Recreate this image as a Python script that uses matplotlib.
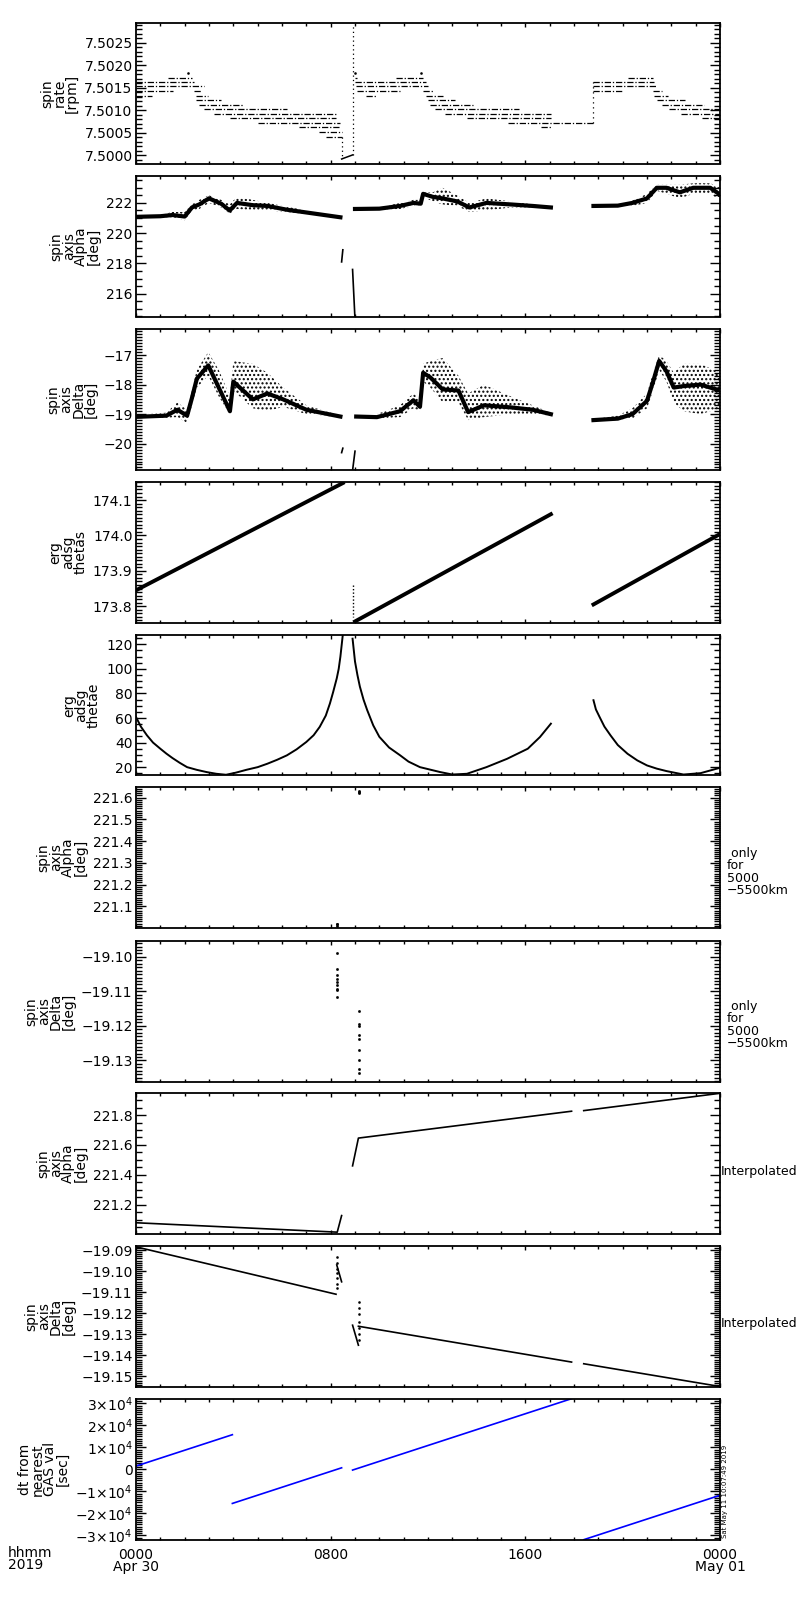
import numpy as np
import matplotlib
matplotlib.use('Agg')
import matplotlib.pyplot as plt
from matplotlib.ticker import MultipleLocator, FuncFormatter

# ---- panel 1: spin rate, quantized levels [rpm] and the hours where each level shows up
rate_lev = [7.50164, 7.50153, 7.50144, 7.50131, 7.50171, 7.50144, 7.50131, 7.50123,
            7.50111, 7.50103, 7.50091, 7.50083, 7.50072, 7.50063, 7.50052, 7.50041,
            7.50171, 7.50164, 7.50153, 7.50144, 7.50131, 7.50171, 7.50144, 7.50131,
            7.50123, 7.50111, 7.50103, 7.50091, 7.50083, 7.50072, 7.50063,
            7.50164, 7.50153, 7.50144, 7.50171, 7.50144, 7.50131, 7.50123, 7.50111,
            7.50103, 7.50091, 7.50083]
rate_t0 = [0.0, 0.0, 0.0, 0.0, 1.3, 2.4, 2.45, 2.45, 2.6, 2.8, 3.2, 3.85, 5.0, 6.7, 7.5, 7.8,
           9.0, 9.0, 9.05, 9.1, 9.45, 10.7, 11.8, 11.9, 12.0, 12.1, 12.3, 12.7, 13.6, 15.3, 16.65,
           18.8, 18.8, 18.8, 20.2, 21.25, 21.3, 21.4, 21.6, 21.9, 22.4, 23.25]
rate_t1 = [2.4, 2.8, 1.5, 0.65, 2.3, 2.7, 2.97, 3.5, 4.45, 6.2, 8.2, 8.2, 8.4, 8.4, 8.45, 8.45,
           9.1, 11.9, 12.0, 10.85, 9.85, 11.8, 12.2, 12.6, 13.1, 13.85, 15.75, 17.05, 17.05, 18.8, 17.05,
           21.3, 21.4, 20.0, 21.25, 21.6, 21.85, 22.55, 23.35, 24.0, 24.0, 24.0]
rate_dot_t = [2.15, 9.02, 11.7]
rate_dot_v = [7.50183, 7.50183, 7.50183]
rate_drop_t = [8.45, 8.45]
rate_drop_v = [7.50041, 7.49992]
rate_ramp_t = [8.45, 8.9]
rate_ramp_v = [7.49992, 7.50001]
rate_spike_t = [8.9, 8.9]
rate_spike_v = [7.50001, 7.50288]
rate_step_t = [18.8, 18.8]
rate_step_v = [7.50072, 7.50164]

# ---- panel 2: spin axis alpha [deg], centre of the point cloud and its envelope
alpha_t = [0, 1.0, 1.5, 2.0, 2.3, 2.6, 3.0, 3.5, 3.85, 4.15, 4.8, 5.4, 6.2, 7.3, 8.4, np.nan,
           9.0, 10.0, 10.85, 11.4, 11.7, 11.8, 12.2, 12.6, 13.2, 13.7, 14.4, 15.4, 16.3, 17.05, np.nan,
           18.8, 19.8, 20.4, 21.0, 21.4, 21.8, 22.35, 22.9, 23.6, 24.0]
alpha_mid = [221.08, 221.12, 221.2, 221.1, 221.7, 221.9, 222.3, 221.95, 221.5, 222.0, 221.85, 221.8, 221.55, 221.3, 221.05, np.nan,
             221.6, 221.62, 221.8, 222.0, 221.95, 222.6, 222.4, 222.3, 222.1, 221.7, 222.0, 221.9, 221.8, 221.7, np.nan,
             221.8, 221.82, 222.0, 222.3, 223.0, 223.0, 222.7, 223.0, 223.0, 222.55]
alpha_hi = [221.12, 221.2, 221.4, 221.4, 221.9, 222.2, 222.5, 222.2, 221.9, 222.4, 222.2, 222.0, 221.75, 221.4, 221.08, np.nan,
            221.62, 221.7, 222.0, 222.2, 222.2, 222.7, 222.7, 223.0, 222.5, 222.0, 222.3, 222.1, 221.9, 221.75, np.nan,
            221.82, 221.9, 222.15, 222.6, 223.2, 223.2, 223.2, 223.3, 223.3, 223.0]
alpha_lo = [221.04, 221.05, 221.05, 220.85, 221.5, 221.6, 222.0, 221.7, 221.3, 221.6, 221.5, 221.5, 221.4, 221.2, 221.02, np.nan,
            221.58, 221.55, 221.6, 221.8, 221.8, 222.4, 222.1, 221.9, 221.8, 221.4, 221.5, 221.7, 221.7, 221.65, np.nan,
            221.78, 221.75, 221.8, 222.0, 222.8, 222.6, 222.3, 222.6, 222.6, 222.2]
alpha_gap_t = [8.45, 8.5, np.nan, 8.9, 9.0]
alpha_gap_v = [218.1, 218.9, np.nan, 217.6, 214.3]

# ---- panel 3: spin axis delta [deg]
delta_t = [0, 1.25, 1.7, 2.1, 2.3, 2.5, 2.97, 3.4, 3.86, 4.0, 4.8, 5.4, 6.05, 7.0, 8.4, np.nan,
           9.05, 9.9, 10.85, 11.4, 11.67, 11.8, 12.1, 12.6, 13.25, 13.65, 14.3, 15.4, 16.3, 17.05, np.nan,
           18.8, 19.8, 20.4, 21.0, 21.25, 21.5, 21.8, 22.1, 22.5, 23.2, 24.0]
delta_mid = [-19.09, -19.05, -18.85, -19.05, -18.45, -17.8, -17.35, -18.1, -18.9, -17.9, -18.5, -18.3, -18.5, -18.85, -19.08, np.nan,
             -19.08, -19.1, -18.9, -18.53, -18.75, -17.6, -17.76, -18.16, -18.2, -18.93, -18.7, -18.77, -18.85, -19.0, np.nan,
             -19.2, -19.15, -19.0, -18.55, -17.9, -17.2, -17.55, -18.1, -18.05, -18.0, -18.2]
delta_hi = [-19.02, -18.95, -18.6, -18.85, -18.2, -17.5, -16.9, -17.5, -18.4, -17.2, -17.3, -17.6, -18.1, -18.7, -19.05, np.nan,
            -19.05, -19.0, -18.7, -18.3, -18.5, -17.3, -17.2, -17.1, -17.7, -18.3, -18.0, -18.4, -18.7, -18.95, np.nan,
            -19.17, -19.05, -18.8, -18.3, -17.6, -17.0, -17.2, -17.6, -17.3, -17.3, -17.6]
delta_lo = [-19.14, -19.12, -19.1, -19.3, -18.7, -18.1, -17.7, -18.4, -19.0, -18.2, -18.8, -18.9, -18.75, -19.0, -19.1, np.nan,
            -19.12, -19.15, -19.1, -18.8, -18.9, -17.9, -18.1, -18.6, -18.6, -19.2, -19.1, -19.0, -19.0, -19.05, np.nan,
            -19.23, -19.2, -19.15, -18.8, -18.2, -17.5, -17.9, -18.6, -18.9, -19.0, -18.8]
delta_gap_t = [8.45, 8.5, np.nan, 8.9, 9.0]
delta_gap_v = [-20.3, -20.15, np.nan, -20.9, -20.25]

# ---- panel 4: erg adsg thetas
thetas_t = [0, 8.5, np.nan, 9.0, 17.05, np.nan, 18.8, 24.0]
thetas_v = [173.845, 174.148, np.nan, 173.757, 174.06, np.nan, 173.805, 174.004]
thetas_jump_t = [8.9, 8.9]
thetas_jump_v = [173.86, 173.77]

# ---- panel 5: erg adsg thetae
thetae_t = [0, 0.2, 0.45, 0.7, 1.0, 1.25, 1.5, 1.8, 2.1, 2.5, 2.9, 3.3, 3.7, 4.1, 4.55, 5.0, 5.4, 5.8,
            6.2, 6.6, 7.0, 7.3, 7.55, 7.8, 7.97, 8.1, 8.25, 8.33, 8.4, 8.5, np.nan,
            8.9, 9.0, 9.1, 9.2, 9.35, 9.5, 9.75, 10.0, 10.4, 10.85, 11.2, 11.67, 12.5, 13.0, 13.6,
            14.4, 15.25, 16.1, 16.6, 17.05, np.nan,
            18.8, 18.9, 19.05, 19.25, 19.5, 19.8, 20.2, 20.6, 21.0, 21.4, 21.8, 22.5, 23.2, 24.0]
thetae_v = [60.8, 53.0, 45.9, 40.0, 35.0, 31.0, 27.4, 23.5, 20.0, 17.8, 16.0, 14.6, 13.8, 15.5, 17.9, 20.0, 22.8, 26.0,
            29.6, 34.5, 40.5, 46.0, 52.8, 62.0, 71.9, 81.0, 92.3, 100.0, 110.0, 128.0, np.nan,
            124.6, 106.0, 95.0, 85.6, 75.0, 66.5, 54.0, 44.7, 36.0, 29.7, 24.5, 20.0, 16.0, 14.0, 14.6,
            20.0, 26.8, 35.0, 44.5, 55.4, np.nan,
            74.5, 67.0, 60.9, 53.0, 45.9, 38.0, 30.9, 25.5, 21.4, 18.8, 16.8, 14.0, 15.1, 19.5]

# ---- panel 6: alpha only for 5000-5500 km
alpha_r_t = [8.26, 8.26, 8.27, 9.15, 9.15, 9.16]
alpha_r_v = [221.010, 221.016, 221.020, 221.620, 221.626, 221.632]

# ---- panel 7: delta only for 5000-5500 km
delta_r_t = [8.26] * 9 + [9.17] * 9
delta_r_v = [-19.0990, -19.1034, -19.1053, -19.1063, -19.1073, -19.1082, -19.1092, -19.1097, -19.1116,
             -19.1157, -19.1193, -19.1201, -19.1227, -19.1237, -19.1271, -19.1300, -19.1324, -19.1337]

# ---- panel 8: alpha interpolated
alpha_i_t = [0, 8.27, 8.45, np.nan, 8.9, 9.14, 17.9, np.nan, 18.4, 24.0]
alpha_i_v = [221.079, 221.016, 221.127, np.nan, 221.46, 221.646, 221.826, np.nan, 221.83, 221.946]

# ---- panel 9: delta interpolated
delta_i_t = [0, 8.22, np.nan, 8.25, 8.45, np.nan, 8.9, 9.14, np.nan, 9.14, 17.9, np.nan, 18.4, 24.0]
delta_i_v = [-19.0885, -19.111, np.nan, -19.0971, -19.1051, np.nan, -19.1257, -19.1352, np.nan,
             -19.1262, -19.1432, np.nan, -19.1440, -19.1548]
delta_i_dot_t = [8.26] * 7 + [9.17] * 7
delta_i_dot_v = [-19.0932, -19.0960, -19.0990, -19.1010, -19.1035, -19.1060, -19.1082,
                 -19.1146, -19.1175, -19.1205, -19.1240, -19.1270, -19.1300, -19.1329]

# ---- panel 10: dt from nearest GAS value [sec]
dt_t = [0, 3.96, np.nan, 3.96, 8.45, np.nan, 8.9, 17.9, np.nan, 18.4, 24.0]
dt_v = [1500, 15750, np.nan, -15450, 720, np.nan, -300, 32100, np.nan, -31900, -11750]

labels = ['spin\nrate\n[rpm]', 'spin\naxis\nAlpha\n[deg]', 'spin\naxis\nDelta\n[deg]',
          'erg\nadsg\nthetas', 'erg\nadsg\nthetae', 'spin\naxis\nAlpha\n[deg]',
          'spin\naxis\nDelta\n[deg]', 'spin\naxis\nAlpha\n[deg]', 'spin\naxis\nDelta\n[deg]',
          'dt from\nnearest\nGAS val\n[sec]']
ylims = [(7.49982, 7.50294), (214.49, 223.78), (-20.87, -16.12), (173.754, 174.151), (13.2, 127.6),
         (221.002, 221.649), (-19.1361, -19.0954), (221.007, 221.948), (-19.1548, -19.0881), (-31818, 31955)]
majors = [0.0005, 2, 1, 0.1, 20, 0.1, 0.01, 0.2, 0.01, 10000]
minors = [0.0001, 0.5, 0.1, 0.01, 5, 0.01, 0.001, 0.05, 0.001, 1000]
fmts = ['%.4f', '%d', '%d', '%.1f', '%d', '%.1f', '%.2f', '%.1f', '%.2f', None]
xtick_labels = ['0000\nApr 30', '0800', '1600', '0000\nMay 01']

fig = plt.figure(figsize=(8, 16), dpi=100)
W, H = 800.0, 1600.0
tops = [23, 176, 329, 482, 635, 787, 941, 1093, 1246, 1399]
ph = 140.5
axes = [fig.add_axes([136 / W, 1 - (t + ph) / H, 584 / W, ph / H]) for t in tops]


def make_fmt(f):
    return FuncFormatter(lambda v, p: (f % v).replace('-', '\u2212'))


def sci_fmt(v, p):
    n = int(round(v / 1e4))
    if n == 0:
        return '0'
    return r'$%d{\times}10^{4}$' % n


for i, ax in enumerate(axes):
    ax.set_xlim(0, 24)
    ax.set_ylim(*ylims[i])
    ax.yaxis.set_major_locator(MultipleLocator(majors[i]))
    ax.yaxis.set_minor_locator(MultipleLocator(minors[i]))
    ax.yaxis.set_major_formatter(FuncFormatter(sci_fmt) if fmts[i] is None else make_fmt(fmts[i]))
    ax.xaxis.set_major_locator(MultipleLocator(8))
    ax.xaxis.set_minor_locator(MultipleLocator(1))
    ax.tick_params(axis='both', which='both', direction='in', top=True, right=True, width=1, colors='k')
    ax.tick_params(axis='y', which='major', length=7.5, pad=2.5, labelsize=10)
    ax.tick_params(axis='y', which='minor', length=4.3)
    ax.tick_params(axis='x', which='major', length=3.2, pad=6, labelsize=10)
    ax.tick_params(axis='x', which='minor', length=2.3)
    ax.tick_params(labelbottom=(i == 9))
    for s in ax.spines.values():
        s.set_linewidth(1.3)
    ax.set_ylabel(labels[i], fontsize=10, linespacing=0.85, labelpad=4)

axes[9].set_xticks([0, 8, 16, 24])
axes[9].set_xticklabels(xtick_labels, linespacing=0.85)

# panel 1
ax = axes[0]
ax.hlines(rate_lev, rate_t0, rate_t1, colors='k', lw=0.9, linestyles=[(0, (5, 1.5, 1, 1.5))])
ax.plot(rate_dot_t, rate_dot_v, 's', ms=0.8, color='k')
ax.plot(rate_drop_t, rate_drop_v, color='k', lw=0.9, ls=(0, (1, 2.5)))
ax.plot(rate_ramp_t, rate_ramp_v, color='k', lw=1.1)
ax.plot(rate_spike_t, rate_spike_v, color='k', lw=0.9, ls=(0, (1, 2.5)))
ax.plot(rate_step_t, rate_step_v, color='k', lw=0.9, ls=(0, (1, 3)))


def cloud(ax, t, mid, lo, hi):
    t = np.array(t, float)
    ok = np.isfinite(t)
    ax.fill_between(t, lo, hi, where=ok, facecolor='none', edgecolor='k', hatch='....', lw=0)
    ax.plot(t, mid, color='k', lw=3.0)


# panel 2 and 3
cloud(axes[1], alpha_t, alpha_mid, alpha_lo, alpha_hi)
axes[1].plot(alpha_gap_t, alpha_gap_v, color='k', lw=1.2)
cloud(axes[2], delta_t, delta_mid, delta_lo, delta_hi)
axes[2].plot(delta_gap_t, delta_gap_v, color='k', lw=1.2)

# panel 4, 5
axes[3].plot(thetas_t, thetas_v, color='k', lw=2.8)
axes[3].plot(thetas_jump_t, thetas_jump_v, color='k', lw=1.0, ls=(0, (1, 1.5)))
axes[4].plot(thetae_t, thetae_v, color='k', lw=1.4)

# panel 6, 7 (sparse points)
axes[5].plot(alpha_r_t, alpha_r_v, 's', ms=0.9, color='k')
axes[6].plot(delta_r_t, delta_r_v, 's', ms=0.9, color='k')

# panel 8, 9
axes[7].plot(alpha_i_t, alpha_i_v, color='k', lw=1.2)
axes[8].plot(delta_i_t, delta_i_v, color='k', lw=1.2)
axes[8].plot(delta_i_dot_t, delta_i_dot_v, 's', ms=0.8, color='k')

# panel 10
axes[9].plot(dt_t, dt_v, color='#0000ff', lw=1.2)

# side notes
note = ' only\nfor\n5000\n\u22125500km'
fig.text(727 / W, 1 - 872 / H, note, va='center', ha='left', fontsize=9, linespacing=0.95)
fig.text(727 / W, 1 - 1025 / H, note, va='center', ha='left', fontsize=9, linespacing=0.95)
fig.text(721 / W, 1 - 1172 / H, 'Interpolated', va='center', ha='left', fontsize=9)
fig.text(721 / W, 1 - 1324 / H, 'Interpolated', va='center', ha='left', fontsize=9)
fig.text(8 / W, 1 - 1546 / H, 'hhmm\n2019', va='top', ha='left', fontsize=10, linespacing=0.85)
fig.text(722 / W, 1 - 1538 / H, 'Sat May 11 10:07:49 2019', rotation=90, va='bottom', ha='left', fontsize=5)

fig.savefig('out.png', dpi=100, facecolor='white')
